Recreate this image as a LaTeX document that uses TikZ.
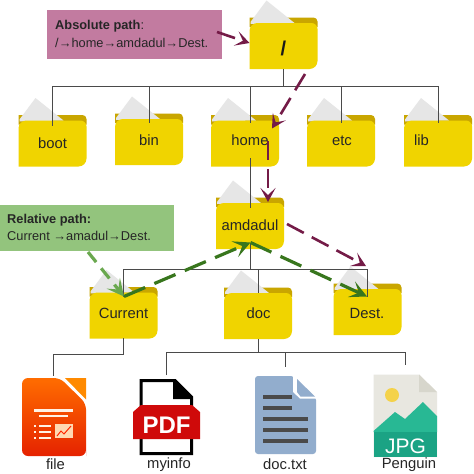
\documentclass[tikz,border=0pt]{standalone}
\usepackage{fontspec}
\setmainfont{Liberation Sans}
\usetikzlibrary{arrows.meta}
\definecolor{fold}{HTML}{F0D400}
\definecolor{folddark}{HTML}{C9A600}
\definecolor{paper}{HTML}{E6E6E6}
\definecolor{linec}{HTML}{4A4A4A}
\definecolor{purp}{HTML}{741B47}
\definecolor{grn}{HTML}{38761D}
\definecolor{lgrn}{HTML}{6AA84F}
\tikzset{
  treeline/.style={draw=linec,line width=1pt},
  flabel/.style={font=\fontsize{14.8}{16}\selectfont,text=black!85,inner sep=0pt},
  iconlabel/.style={font=\fontsize{14.8}{16}\selectfont,text=black!85,inner sep=0pt},
  pathbox/.style={font=\fontsize{12.8}{17.5}\selectfont,align=left,inner sep=0pt,anchor=north west,text=black!85},
  purpArrow/.style={draw=purp,line width=2.6pt,dash pattern=on 19pt off 9pt,-{Stealth[length=14pt,width=15pt,inset=7pt]}},
  grnArrow/.style={draw=grn,line width=3.2pt,dash pattern=on 23pt off 10pt,-{Stealth[length=17pt,width=17pt,inset=8pt]}},
  lgrnArrow/.style={draw=lgrn,line width=3.2pt,dash pattern=on 13pt off 8pt,-{Stealth[length=17pt,width=17pt,inset=8pt]}},
}
% id, left x, top y of front, label, label x, label y
\newcommand{\myfolder}[6]{%
  \begin{scope}[shift={(#2,#3)}]
    \fill[folddark] (0,-2) -- (0,-5.5) -- (64,-5.5) .. controls (66.2,-5.5) and (68,-3.7) .. (68,-1.5) -- (68,4) -- (0,4) -- cycle;
    \fill[paper] (1,-1) -- (17,-22.5) -- (45,0) -- (1,1) -- cycle;
    \fill[fold] (0,8) .. controls (0,3.5) and (3.5,0) .. (8,0) -- (62,0) .. controls (65.3,0) and (68,2.7) .. (68,6) -- (68,38) .. controls (68,42.4) and (64.4,46) .. (60,46) -- (0,46) -- cycle;
  \end{scope}
  \node[flabel] (#1-label) at (#5,#6) {#4};
}
\begin{document}
\begin{tikzpicture}[x=1pt,y=-1pt]
\useasboundingbox (0,0) rectangle (474,474);
\fill[white] (0,0) rectangle (474,474);

\node[minimum width=174.5pt,minimum height=49pt,inner sep=0pt] (absbg) at (134.8,34.5) {};
\fill[fill={rgb,255:red,194;green,123;blue,160}] (absbg.north west) rectangle (absbg.south east);
\node[pathbox] (abstext) at (55,20.5) {\textbf{Absolute path}:\\/→home→amdadul→Dest.};
\node[minimum width=174.5pt,minimum height=46pt,inner sep=0pt] (relbg) at (87,228) {};
\fill[fill={rgb,255:red,147;green,196;blue,125}] (relbg.north west) rectangle (relbg.south east);
\node[pathbox] (reltext) at (7,214) {\textbf{Relative path:}\\Current →amadul→Dest.};

\myfolder{root}{249.5}{23}{}{283.5}{48}
\node[font=\bfseries\fontsize{20}{22}\selectfont,inner sep=0pt,text=black!90] (rootlab) at (283.5,48) {/};
\myfolder{boot}{18.5}{120.5}{boot}{52.5}{143}
\myfolder{bin}{115}{119}{bin}{149}{140}
\myfolder{home}{211}{120.5}{home}{250}{140.5}
\myfolder{etc}{307}{120.5}{etc}{342}{140.5}
\myfolder{lib}{404}{120.5}{lib}{421.5}{140.5}
\myfolder{amdadul}{216}{203}{amdadul}{250}{225}
\myfolder{current}{89.5}{292.5}{Current}{123.5}{313}
\myfolder{doc}{224}{293}{doc}{258.5}{313}
\myfolder{dest}{333.5}{289}{Dest.}{367}{313}

% ---- icons
% file (orange)
\node[inner sep=0pt] (fileicon) at (54,417) {};
\shade[top color=orange!85!red,bottom color=red!70!orange!90!black,rounded corners=6pt] (22,378) -- (60,378) -- (86,403.5) [sharp corners] -- (86,456) [rounded corners=6pt] -- (86,456) -- (22,456) -- cycle;
\fill[orange!80!yellow!90!red] (65,378) -- (86,378) -- (86,399.5) -- cycle;
\fill[white!90!orange] (34,409) rectangle (73,411.5);
\fill[white!90!orange] (39,414.5) rectangle (68,417);
\foreach \yy in {425,431,436.5}{\fill[white!90!orange] (34,\yy) rectangle (36,\yy+2);\fill[white!90!orange] (39,\yy) rectangle (51,\yy+2);}
\fill[white!70!orange] (55,424) rectangle (73,438);
\draw[red!70!orange,line width=1pt] (57,436) -- (61,431) -- (64,434) -- (71,426);

% pdf
\node[inner sep=0pt] (pdficon) at (166,417) {};
\draw[black,line width=3pt,fill=white] (141,380.5) -- (175,380.5) -- (191.5,397) -- (191.5,453.5) -- (141,453.5) -- cycle;
\fill[black] (173,379) -- (193,399) -- (173,399) -- cycle;
\fill[red!80!black!95!pink] (133,412) -- (141,405) -- (192,405) -- (200,412) -- (200,439) -- (133,439) -- cycle;
\node[font=\bfseries\fontsize{24}{25}\selectfont,text=white,inner sep=0pt] (pdftext) at (166.5,425.5) {PDF};

% doc
\node[inner sep=0pt] (docicon) at (285,415) {};
\fill[fill={rgb,255:red,146;green,173;blue,205},rounded corners=3pt] (255,376) -- (294,376) -- (294,390) -- (316,397) -- (316,454) -- (255,454) -- cycle;
\fill[white] (294,376) -- (316,397) -- (316,398.5) -- (300,398.5) -- (293,392) -- (293,376) -- cycle;
\fill[fill={rgb,255:red,146;green,173;blue,205}] (297,379) -- (315,396.5) -- (300.5,396.5) -- (297,392) -- cycle;
\foreach \yy/\xx in {397/292,408/292,419/307.5,429.5/307.5,440.5/307.5}{\fill[linec] (263,\yy-2) rectangle (\xx,\yy+2);}

% jpg
\node[inner sep=0pt] (jpgicon) at (405,415) {};
\fill[fill={rgb,255:red,232;green,231;blue,224}] (373.5,374.5) -- (419,374.5) -- (437,392) -- (437,457) -- (373.5,457) -- cycle;
\fill[fill={rgb,255:red,215;green,214;blue,204}] (419,374.5) -- (437,392) -- (419,392) -- cycle;
\fill[fill={rgb,255:red,244;green,210;blue,74}] (392,395) circle (7);
\fill[fill={rgb,255:red,40;green,184;blue,148}] (373.5,431) -- (395,412) -- (405,419) -- (423,402) -- (437,416) -- (437,432) -- (373.5,432) -- cycle;
\fill[fill={rgb,255:red,27;green,163;blue,132}] (373.5,431.5) rectangle (437,457);
\node[font=\fontsize{21}{22}\selectfont,text=white,inner sep=0pt] (jpgtext) at (405.5,446) {JPG};

\node[iconlabel] (filelab) at (55.5,464.5) {file};
\node[iconlabel] (myinfolab) at (169,464.5) {myinfo};
\node[iconlabel] (doctxtlab) at (285,464.5) {doc.txt};
\node[iconlabel] (penguinlab) at (409,464.5) {Penguin};

% ---- tree lines
\coordinate (rootB) at (283.5,69);
\coordinate (busT) at (283.5,86);
\coordinate (busL) at (52.5,86);
\coordinate (busR) at (438,86);
\draw[treeline] (rootB) -- (busT);
\draw[treeline] (busL) -- (busR);
\coordinate (bootT) at (52.5,126);
\coordinate (binT) at (149,123);
\coordinate (homeT) at (250.5,123);
\coordinate (etcT) at (341.7,123);
\coordinate (libT) at (438,123);
\foreach \nn in {boot,bin,home,etc,lib}{\draw[treeline] (\nn T |- busL) -- (\nn T);}
\coordinate (homeB) at (250.5,158);
\coordinate (amdT) at (250.5,208);
\draw[treeline] (homeB) -- (amdT);
\coordinate (amdB) at (250.5,243);
\coordinate (bus2L) at (123.5,269);
\coordinate (bus2R) at (367,269);
\draw[treeline] (amdB) -- (amdB |- bus2L);
\draw[treeline] (bus2L) -- (bus2R);
\coordinate (curT) at (123.5,296.5);
\coordinate (docT) at (258.5,293);
\coordinate (destT) at (367,296.5);
\draw[treeline] (bus2L) -- (curT);
\draw[treeline] (docT |- bus2L) -- (docT);
\draw[treeline] (bus2R) -- (destT);
\coordinate (curB) at (123.5,338);
\coordinate (fileL) at (53.5,354);
\draw[treeline] (curB) -- (curB |- fileL) -- (fileL) -- (53.5,376);
\coordinate (docB) at (258.5,339);
\coordinate (b3L) at (166,352.5);
\coordinate (b3R) at (405,352.5);
\draw[treeline] (docB) -- (docB |- b3L);
\draw[treeline] (166,375) -- (b3L) -- (b3R) -- (405,365);
\draw[treeline] (285,352.5) -- (285,367);

% ---- path arrows
\coordinate (a1) at (217,32);
\coordinate (a2) at (249.5,43);
\coordinate (a3) at (305,74);
\coordinate (a4) at (272,128.5);
\coordinate (a5) at (268,141);
\coordinate (a6) at (268,202);
\coordinate (a7) at (287,224);
\coordinate (a8) at (366,266);
\draw[purpArrow] (a1) -- (a2);
\draw[purpArrow] (a3) -- (a4);
\draw[purpArrow] (a5) -- (a6);
\draw[purpArrow] (a7) -- (a8);
\coordinate (g0) at (88,252);
\coordinate (g1) at (124,296.5);
\coordinate (g2) at (250.5,242.5);
\coordinate (g3) at (367,296.5);
\draw[lgrnArrow] (g0) -- (g1);
\draw[grnArrow] (g1) -- (g2);
\draw[grnArrow] (g2) -- (g3);
\end{tikzpicture}
\end{document}
